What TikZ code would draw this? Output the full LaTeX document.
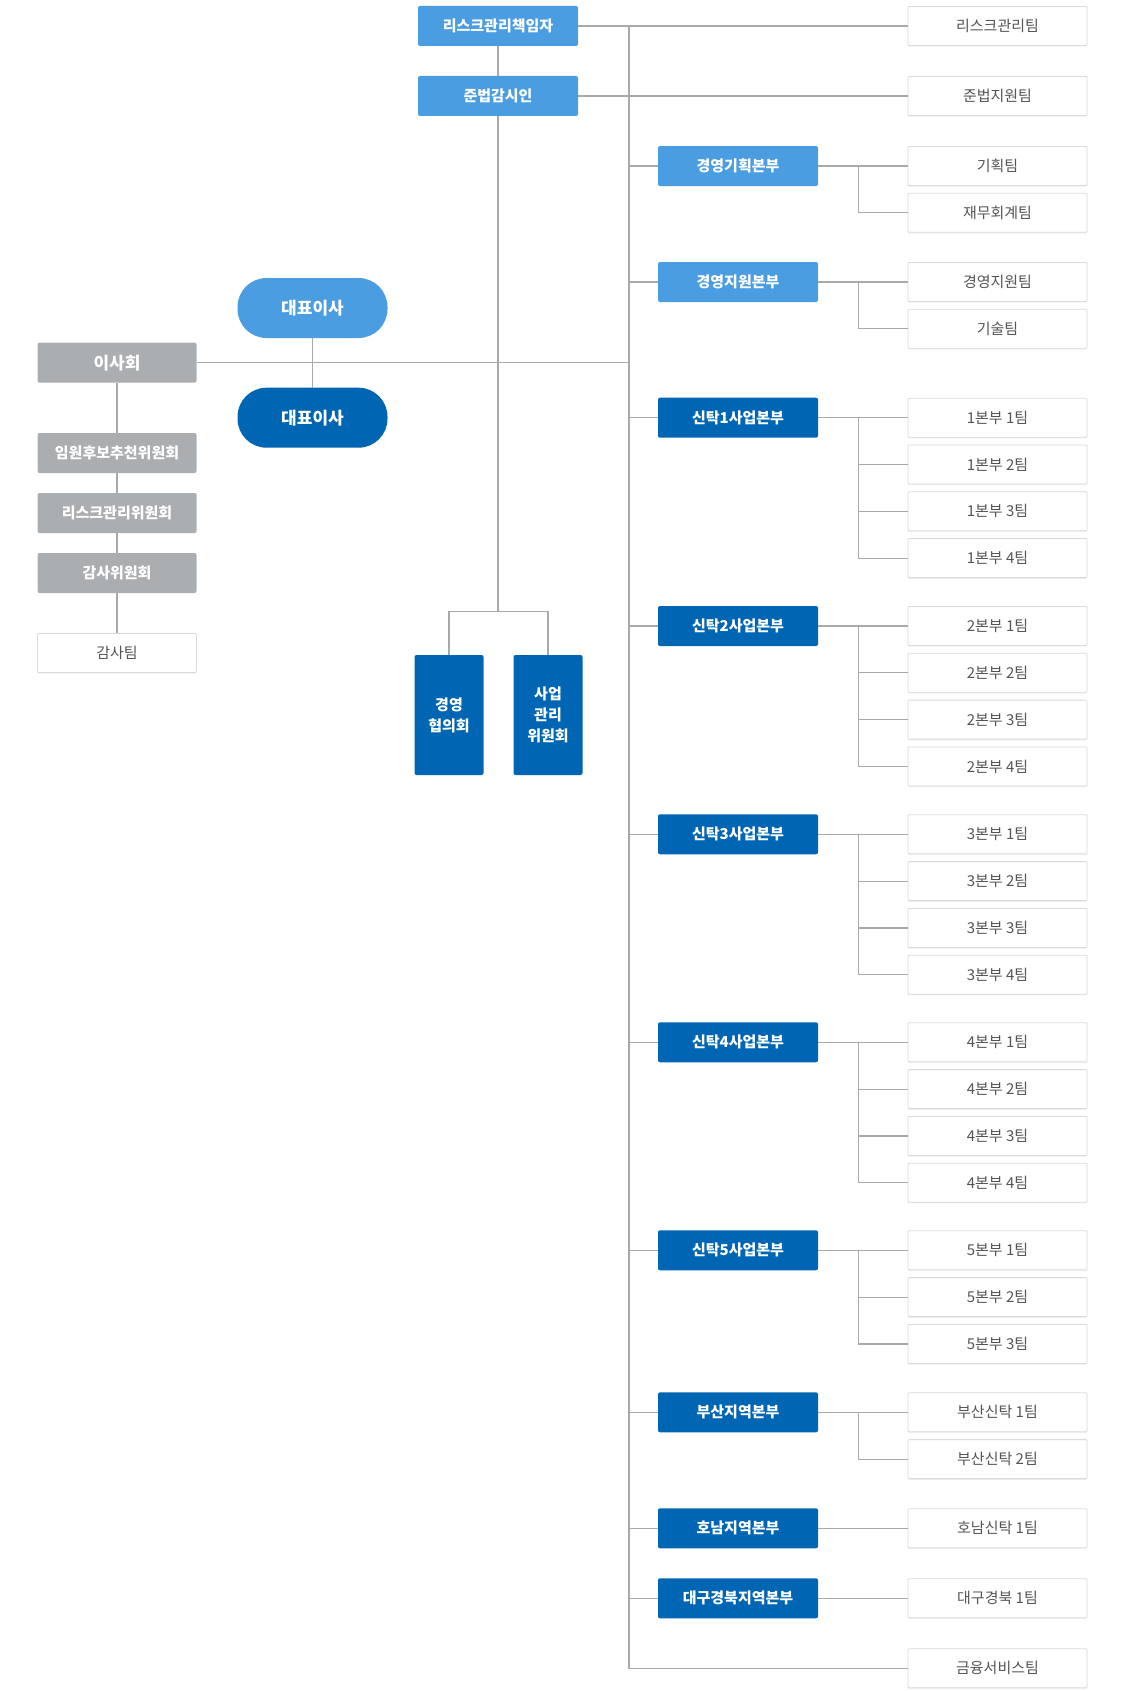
\documentclass[tikz,border=0pt]{standalone}
\usepackage{fontspec}
\newfontfamily\krfont{Noto Sans CJK KR}
\usepackage{tikz}
\usetikzlibrary{positioning,calc,shadows}

\definecolor{lightblue}{HTML}{4A9DE0}
\definecolor{darkblue}{HTML}{0066B3}
\definecolor{boardgray}{HTML}{ABAEB1}
\definecolor{linegray}{HTML}{A9A9A9}
\definecolor{boxborder}{HTML}{DADADA}
\definecolor{teamtext}{HTML}{555555}

\begin{document}
\begin{tikzpicture}[x=1pt,y=-1pt,
    font=\krfont\fontsize{15}{21}\selectfont,
    link/.style={draw=linegray,line width=1.2pt},
    topbox/.style={fill=lightblue,text=white,font=\krfont\bfseries\fontsize{15}{21}\selectfont,
        minimum width=160pt,minimum height=40pt,inner sep=0pt,rounded corners=2pt},
    hqbox/.style={topbox,fill=darkblue},
    boardbox/.style={topbox,fill=boardgray,minimum width=159pt},
    ceo/.style={topbox,minimum width=150pt,minimum height=60pt,rounded corners=29pt,
        font=\krfont\bfseries\fontsize{17}{21}\selectfont},
    commbox/.style={hqbox,minimum width=69pt,minimum height=120pt,align=center},
    team/.style={draw=boxborder,line width=0.8pt,fill=white,text=teamtext,
        minimum width=179pt,minimum height=39pt,inner sep=0pt,rounded corners=1pt,
        drop shadow={shadow xshift=0pt,shadow yshift=-1.2pt,opacity=0.12}},
    ]

	\useasboundingbox[fill=white] (0,0) rectangle (1128,1691);

	% officers over the trunk
	\node[topbox] (R1) at (498,26) {리스크관리책임자};
	\node[topbox] (R2) at (498,96) {준법감시인};

	% board side
	\node[ceo] (P1) at (312.5,308) {대표이사};
	\node[ceo,fill=darkblue] (P2) at (312.5,417.7) {대표이사};
	\node[boardbox,font=\krfont\bfseries\fontsize{17}{21}\selectfont] (B) at (117,362.7) {이사회};
	\node[boardbox] (C1) at (117,453) {임원후보추천위원회};
	\node[boardbox] (C2) at (117,513) {리스크관리위원회};
	\node[boardbox] (C3) at (117,573) {감사위원회};
	\node[team,minimum width=159pt] (AT) at (117,653) {감사팀};

	% committees
	\node[commbox] (M1) at (449,715) {경영\\협의회};
	\node[commbox] (M2) at (548,715) {사업\\관리\\위원회};

	% headquarters
	\node[topbox] (HP) at (738,166) {경영기획본부};
	\node[topbox] (HS) at (738,282) {경영지원본부};
	\node[hqbox] (H1) at (738,417.7) {신탁1사업본부};
	\node[hqbox] (H2) at (738,626) {신탁2사업본부};
	\node[hqbox] (H3) at (738,834.3) {신탁3사업본부};
	\node[hqbox] (H4) at (738,1042.3) {신탁4사업본부};
	\node[hqbox] (H5) at (738,1250.3) {신탁5사업본부};
	\node[hqbox] (HB) at (738,1412.3) {부산지역본부};
	\node[hqbox] (HH) at (738,1528.3) {호남지역본부};
	\node[hqbox] (HD) at (738,1598.3) {대구경북지역본부};

	% teams
	\node[team] (TR) at (997.5,26) {리스크관리팀};
	\node[team] (TC) at (997.5,96) {준법지원팀};

	\node[team] (TP1) at (997.5,166) {기획팀};
	\node[team,below=7pt of TP1] (TP2) {재무회계팀};

	\node[team] (TS1) at (997.5,282) {경영지원팀};
	\node[team,below=7pt of TS1] (TS2) {기술팀};

	\node[team] (T11) at (997.5,417.7) {1본부 1팀};
	\node[team,below=7pt of T11] (T12) {1본부 2팀};
	\node[team,below=7pt of T12] (T13) {1본부 3팀};
	\node[team,below=7pt of T13] (T14) {1본부 4팀};

	\node[team] (T21) at (997.5,626) {2본부 1팀};
	\node[team,below=7pt of T21] (T22) {2본부 2팀};
	\node[team,below=7pt of T22] (T23) {2본부 3팀};
	\node[team,below=7pt of T23] (T24) {2본부 4팀};

	\node[team] (T31) at (997.5,834.3) {3본부 1팀};
	\node[team,below=7pt of T31] (T32) {3본부 2팀};
	\node[team,below=7pt of T32] (T33) {3본부 3팀};
	\node[team,below=7pt of T33] (T34) {3본부 4팀};

	\node[team] (T41) at (997.5,1042.3) {4본부 1팀};
	\node[team,below=7pt of T41] (T42) {4본부 2팀};
	\node[team,below=7pt of T42] (T43) {4본부 3팀};
	\node[team,below=7pt of T43] (T44) {4본부 4팀};

	\node[team] (T51) at (997.5,1250.3) {5본부 1팀};
	\node[team,below=7pt of T51] (T52) {5본부 2팀};
	\node[team,below=7pt of T52] (T53) {5본부 3팀};

	\node[team] (TB1) at (997.5,1412.3) {부산신탁 1팀};
	\node[team,below=7pt of TB1] (TB2) {부산신탁 2팀};

	\node[team] (TH1) at (997.5,1528.3) {호남신탁 1팀};
	\node[team] (TD1) at (997.5,1598.3) {대구경북 1팀};
	\node[team] (TF) at (997.5,1668.3) {금융서비스팀};

	% trunk
	\coordinate (top) at (629,26);
	\coordinate (bot) at (629,1668.3);
	\coordinate (J) at (498,611.3);

	\draw[link] (top) -- (bot) -- (TF);
	\draw[link] (R1) -- (TR);
	\draw[link] (R2) -- (TC);
	\draw[link] (R1) -- (R2);
	\draw[link] (R2) -- (J);
	\draw[link] (M1) |- (J) -| (M2);

	\draw[link] (B) -- (B -| top);
	\draw[link] (P1) -- (P2);
	\draw[link] (B) -- (C1);
	\draw[link] (C1) -- (C2);
	\draw[link] (C2) -- (C3);
	\draw[link] (C3) -- (AT);

	\draw[link] (HP -| top) -- (HP);
	\draw[link] (HS -| top) -- (HS);
	\draw[link] (H1 -| top) -- (H1);
	\draw[link] (H2 -| top) -- (H2);
	\draw[link] (H3 -| top) -- (H3);
	\draw[link] (H4 -| top) -- (H4);
	\draw[link] (H5 -| top) -- (H5);
	\draw[link] (HB -| top) -- (HB);
	\draw[link] (HH -| top) -- (HH);
	\draw[link] (HD -| top) -- (HD);

	% branches
	\draw[link] (HP) -- (TP1);
	\draw[link] ([xshift=40pt]HP.east) |- (TP2);

	\draw[link] (HS) -- (TS1);
	\draw[link] ([xshift=40pt]HS.east) |- (TS2);

	\draw[link] (H1) -- (T11);
	\draw[link] ([xshift=40pt]H1.east) |- (T12);
	\draw[link] ([xshift=40pt]H1.east) |- (T13);
	\draw[link] ([xshift=40pt]H1.east) |- (T14);

	\draw[link] (H2) -- (T21);
	\draw[link] ([xshift=40pt]H2.east) |- (T22);
	\draw[link] ([xshift=40pt]H2.east) |- (T23);
	\draw[link] ([xshift=40pt]H2.east) |- (T24);

	\draw[link] (H3) -- (T31);
	\draw[link] ([xshift=40pt]H3.east) |- (T32);
	\draw[link] ([xshift=40pt]H3.east) |- (T33);
	\draw[link] ([xshift=40pt]H3.east) |- (T34);

	\draw[link] (H4) -- (T41);
	\draw[link] ([xshift=40pt]H4.east) |- (T42);
	\draw[link] ([xshift=40pt]H4.east) |- (T43);
	\draw[link] ([xshift=40pt]H4.east) |- (T44);

	\draw[link] (H5) -- (T51);
	\draw[link] ([xshift=40pt]H5.east) |- (T52);
	\draw[link] ([xshift=40pt]H5.east) |- (T53);

	\draw[link] (HB) -- (TB1);
	\draw[link] ([xshift=40pt]HB.east) |- (TB2);

	\draw[link] (HH) -- (TH1);
	\draw[link] (HD) -- (TD1);

\end{tikzpicture}
\end{document}
